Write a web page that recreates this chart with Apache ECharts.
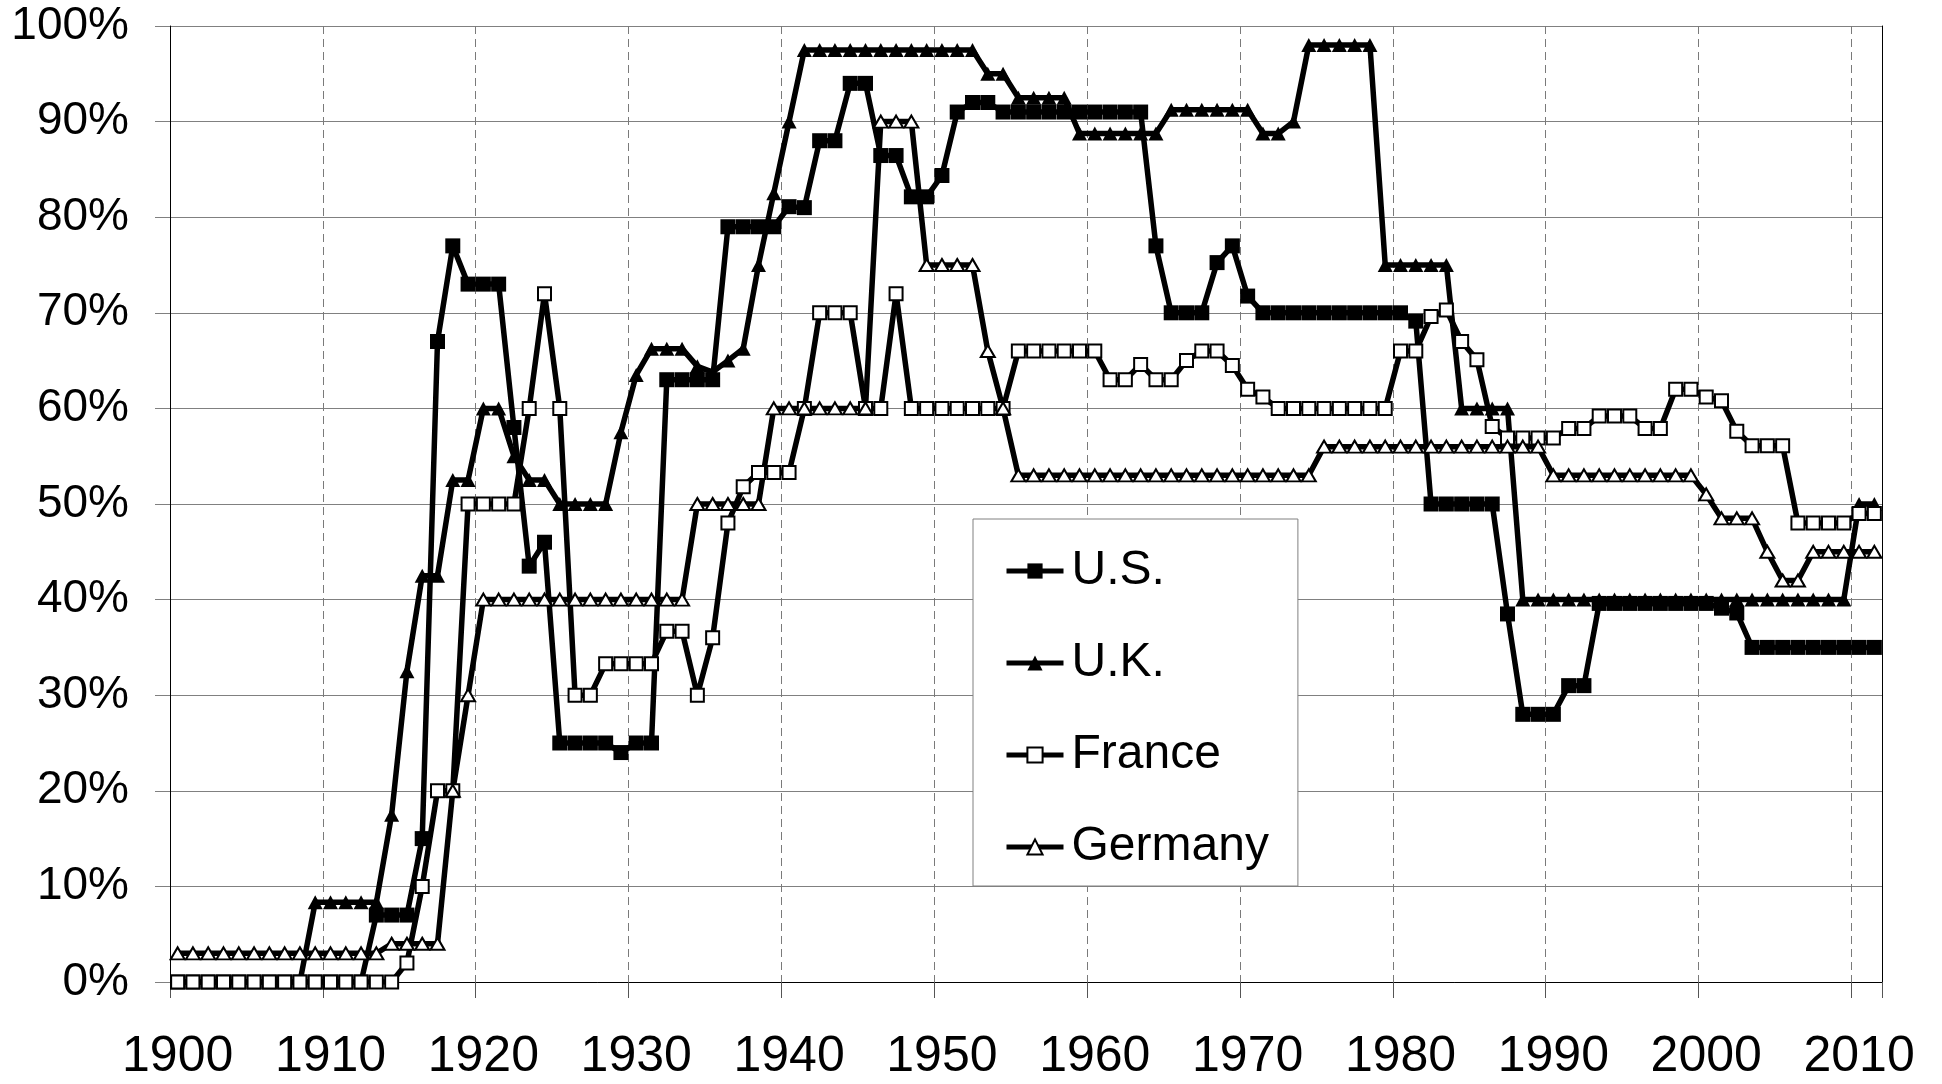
<!DOCTYPE html>
<html>
<head>
<meta charset="utf-8">
<script src="https://cdn.jsdelivr.net/npm/echarts@6/dist/echarts.min.js"></script>
<style>
html,body{margin:0;padding:0;background:#fff;}
#chart{width:1942px;height:1084px;}
</style>
</head>
<body>
<div id="chart"></div>
<script>
// Years 1900..2011
var years = [];
for (var y = 1900; y <= 2011; y++) years.push(String(y));

var seriesNames = ['U.S.', 'U.K.', 'France', 'Germany'];
var yTickLabels = ['0%','10%','20%','30%','40%','50%','60%','70%','80%','90%','100%'];

// Top marginal income tax rates (%)
var usRates = [
  0,0,0,0,0,0,0,0,0,0, 0,0,0,7,7,7,15,67,77,73,          // 1900-1919
  73,73,58,43.5,46,25,25,25,25,24,                       // 1920-1929
  25,25,63,63,63,63,79,79,79,79,                         // 1930-1939
  81.1,81,88,88,94,94,86.45,86.45,82.13,82.13,           // 1940-1949
  84.36,91,92,92,91,91,91,91,91,91,                      // 1950-1959
  91,91,91,91,77,70,70,70,75.25,77,                      // 1960-1969
  71.75,70,70,70,70,70,70,70,70,70,                      // 1970-1979
  70,69.13,50,50,50,50,50,38.5,28,28,                    // 1980-1989
  28,31,31,39.6,39.6,39.6,39.6,39.6,39.6,39.6,           // 1990-1999
  39.6,39.1,38.6,35,35,35,35,35,35,35,                   // 2000-2009
  35,35                                                  // 2010-2011
];
var ukRates = [
  0,0,0,0,0,0,0,0,0,8.33, 8.33,8.33,8.33,8.33,17.5,32.5,42.5,42.5,52.5,52.5,   // 1900-1919
  60,60,55,52.5,52.5,50,50,50,50,57.5,                   // 1920-1929
  63.5,66.25,66.25,66.25,64.4,63.8,65,66.25,75,82.5,     // 1930-1939
  90,97.5,97.5,97.5,97.5,97.5,97.5,97.5,97.5,97.5,       // 1940-1949
  97.5,97.5,97.5,95,95,92.5,92.5,92.5,92.5,88.75,        // 1950-1959
  88.75,88.75,88.75,88.75,88.75,91.25,91.25,91.25,91.25,91.25, // 1960-1969
  91.25,88.75,88.75,90,98,98,98,98,98,75,                // 1970-1979
  75,75,75,75,60,60,60,60,40,40,                         // 1980-1989
  40,40,40,40,40,40,40,40,40,40,                         // 1990-1999
  40,40,40,40,40,40,40,40,40,40,                         // 2000-2009
  50,50                                                  // 2010-2011
];
var franceRates = [
  0,0,0,0,0,0,0,0,0,0, 0,0,0,0,0,2,10,20,20,50,          // 1900-1919
  50,50,50,60,72,60,30,30,33.3,33.3,                     // 1920-1929
  33.3,33.3,36.7,36.7,30,36,48,51.8,53.3,53.3,           // 1930-1939
  53.3,60,70,70,70,60,60,72,60,60,                       // 1940-1949
  60,60,60,60,60,66,66,66,66,66,                         // 1950-1959
  66,63,63,64.6,63,63,65,66,66,64.5,                     // 1960-1969
  62,61.2,60,60,60,60,60,60,60,60,                       // 1970-1979
  66,66,69.6,70.3,67,65.1,58.1,56.9,56.9,56.9,           // 1980-1989
  56.9,57.9,57.9,59.2,59.2,59.2,57.9,57.9,62,62,         // 1990-1999
  61.2,60.8,57.6,56.1,56.1,56.1,48,48,48,48,             // 2000-2009
  49,49                                                  // 2010-2011
];
var germanyRates = [
  3,3,3,3,3,3,3,3,3,3, 3,3,3,3,4,4,4,4,20,30,            // 1900-1919
  40,40,40,40,40,40,40,40,40,40,                         // 1920-1929
  40,40,40,40,50,50,50,50,50,60,                         // 1930-1939
  60,60,60,60,60,60,90,90,90,75,                         // 1940-1949
  75,75,75,66,60,53,53,53,53,53,                         // 1950-1959
  53,53,53,53,53,53,53,53,53,53,                         // 1960-1969
  53,53,53,53,53,56,56,56,56,56,                         // 1970-1979
  56,56,56,56,56,56,56,56,56,56,                         // 1980-1989
  53,53,53,53,53,53,53,53,53,53,                         // 1990-1999
  51,48.5,48.5,48.5,45,42,42,45,45,45,                   // 2000-2009
  45,45                                                  // 2010-2011
];

var FONT = '"Liberation Sans", Arial, Helvetica, sans-serif';
var chart = echarts.init(document.getElementById('chart'), null, {renderer: 'canvas'});

function lineSeries(name, data, symbol, size, fill, border) {
  return {
    name: name, type: 'line', data: data,
    symbol: symbol, symbolSize: size, showSymbol: true, showAllSymbol: true,
    symbolKeepAspect: false,
    lineStyle: {color: '#000', width: 5.5},
    itemStyle: {color: fill, borderColor: '#000', borderWidth: border},
    emphasis: {disabled: true},
    animation: false
  };
}

chart.setOption({
  animation: false,
  backgroundColor: '#fff',
  grid: {left: 170, right: 60, top: 26, bottom: 102, containLabel: false},
  xAxis: {
    type: 'category', data: years, boundaryGap: true,
    axisLine: {show: true, lineStyle: {color: '#000', width: 1}},
    axisTick: {show: true, interval: 9, length: 16, alignWithLabel: false, lineStyle: {color: '#555'}},
    axisLabel: {interval: 9, fontSize: 50, fontFamily: FONT, color: '#000', margin: 50},
    splitLine: {show: true, interval: 9, lineStyle: {color: '#7a7a7a', width: 1, type: [8, 5]}}
  },
  yAxis: [{
    type: 'value', min: 0, max: 100, interval: 10, position: 'left',
    axisLine: {show: true, lineStyle: {color: '#000', width: 1}},
    axisTick: {show: true, length: 15, lineStyle: {color: '#808080'}},
    axisLabel: {fontSize: 46, fontFamily: FONT, color: '#000', margin: 41,
      formatter: function (v) { return yTickLabels[Math.round(v / 10)]; }},
    splitLine: {show: true, lineStyle: {color: '#808080', width: 1}}
  }, {
    type: 'value', min: 0, max: 100, interval: 10, position: 'right',
    axisLine: {show: true, lineStyle: {color: '#000', width: 1}},
    axisTick: {show: false}, axisLabel: {show: false}, splitLine: {show: false}
  }],
  legend: {
    data: seriesNames,
    orient: 'vertical', left: 973, top: 519,
    padding: [28, 29, 15, 31],
    itemWidth: 57, itemHeight: 19, itemGap: 44,
    backgroundColor: '#fff', borderColor: '#808080', borderWidth: 1,
    lineStyle: {width: 5, color: '#000'},
    textStyle: {fontSize: 48, fontFamily: FONT, color: '#000', lineHeight: 48, padding: [0, 0, 0, 3]},
    selectedMode: false
  },
  series: [
    lineSeries(seriesNames[0], usRates, 'rect', 15, '#000', 0),
    lineSeries(seriesNames[1], ukRates, 'triangle', [15, 14], '#000', 0),
    lineSeries(seriesNames[2], franceRates, 'rect', 13, '#fff', 2),
    lineSeries(seriesNames[3], germanyRates, 'triangle', [14, 12], '#fff', 2)
  ]
});
</script>
</body>
</html>
